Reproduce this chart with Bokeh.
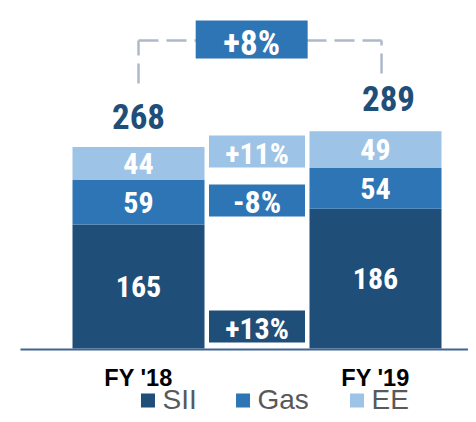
from bokeh.plotting import figure
from bokeh.models import Range1d, ColumnDataSource
from bokeh.embed import file_html
from bokeh.resources import INLINE
from bokeh.core.properties import value

# ---------------- data ----------------
categories = ["FY '18", "FY '19"]
series = ["SII", "Gas", "EE"]
sii = [165, 186]
gas = [59, 54]
ee = [44, 49]

# ---------------- styles / layout ----------------
colors = ["#1F4E79", "#2E75B6", "#9DC3E6"]
NARROW = "Roboto Condensed"
SANS = "Liberation Sans"
dark_text = "#1F4E79"
connector_color = "#ADB9CA"

cat_x = [0, 2]          # category positions
mid_x = 1               # column with the growth boxes
bar_width = 1.114
growth_box_y = [29.3, 196.8, 262.0]   # centers of the growth boxes (SII, Gas, EE)
growth_box_h = 42.5
growth_box_w = 0.81
growth_font = ["30px", "32px", "30px"]
growth_dy = [2, 1, 2]

values = {"SII": sii, "Gas": gas, "EE": ee}
totals = [a + b + c for a, b, c in zip(sii, gas, ee)]


def pct(a, b):
    return f"{round((b / a - 1) * 100):+d}%"


growth = [pct(values[s][0], values[s][1]) for s in series]
total_growth = pct(totals[0], totals[1])

X0, X1 = -1.1646, 2.7848
p = figure(width=468, height=414,
           x_range=Range1d(X0, X1), y_range=Range1d(-87.77, 462.77),
           x_axis_location=None, y_axis_location=None,
           toolbar_location=None, output_backend="svg", min_border=0)
p.outline_line_color = None
p.grid.visible = False
p.background_fill_color = "white"
p.border_fill_color = "white"

# stacked bars
src = ColumnDataSource(dict(x=cat_x, cat=categories, SII=sii, Gas=gas, EE=ee))
p.vbar_stack(series, x="x", width=bar_width, color=colors, line_color=None, source=src)

# segment value labels
lx, ly, lt = [], [], []
for i, x in enumerate(cat_x):
    bottom = 0
    for s in series:
        v = values[s][i]
        lx.append(x)
        ly.append(bottom + v / 2)
        lt.append(str(v))
        bottom += v
p.text(x=lx, y=ly, text=lt, text_color="white", text_font=value(NARROW),
       text_font_style="bold", text_font_size="30px",
       text_align="center", text_baseline="middle")

# totals
p.text(x=cat_x, y=totals, text=[str(t) for t in totals], x_offset=[0, 13], y_offset=[-30, -33],
       text_color=dark_text, text_font=value(NARROW), text_font_style="bold",
       text_font_size="35px", text_align="center", text_baseline="middle")

# growth boxes in the middle column
gsrc = ColumnDataSource(dict(x=[mid_x] * 3, y=growth_box_y, c=colors, t=growth,
                             fs=growth_font, dy=growth_dy))
p.rect(x="x", y="y", width=growth_box_w, height=growth_box_h, fill_color="c",
       line_color=None, source=gsrc)
p.text(x="x", y="y", text="t", text_font_size="fs", y_offset="dy", text_color="white",
       text_font=value(NARROW), text_font_style="bold",
       text_align="center", text_baseline="middle", source=gsrc)

# dashed connector between totals
conn_y = 409.5
right_x = 2.051
p.multi_line(xs=[[cat_x[0], cat_x[0]], [cat_x[0], right_x], [right_x, right_x]],
             ys=[[totals[0] + 84.4, conn_y], [conn_y, conn_y], [totals[1] + 76.7, conn_y]],
             line_color=connector_color, line_width=2.5, line_dash="20 8")

# total growth box
p.rect(x=[0.955], y=[410.9], width=0.945, height=50.5, fill_color=colors[1], line_color=None)
p.text(x=[0.955], y=[410.9], text=[total_growth], y_offset=4, text_color="white",
       text_font=value(NARROW), text_font_style="bold", text_font_size="35px",
       text_align="center", text_baseline="middle")

# baseline
p.segment(x0=[-0.996], y0=[-1.3], x1=[X1], y1=[-1.3], line_color="#3F6592", line_width=2)

# category labels
p.text(x=cat_x, y=[-38.6] * 2, text=categories, text_color="black",
       text_font=value(SANS), text_font_style="bold", text_font_size="23.5px",
       text_align="center", text_baseline="middle")

# legend
legend_x = [0.080, 0.882, 1.844]
p.rect(x=legend_x, y=[-69.1] * 3, width=14, height=14, width_units="screen",
       height_units="screen", fill_color=colors, line_color=None)
p.text(x=legend_x, y=[-67.8] * 3, text=series, x_offset=14.5, text_color="#595959",
       text_font=value(SANS), text_font_size="28px", text_align="left", text_baseline="middle")

open("out.html", "w").write(file_html(p, INLINE))
